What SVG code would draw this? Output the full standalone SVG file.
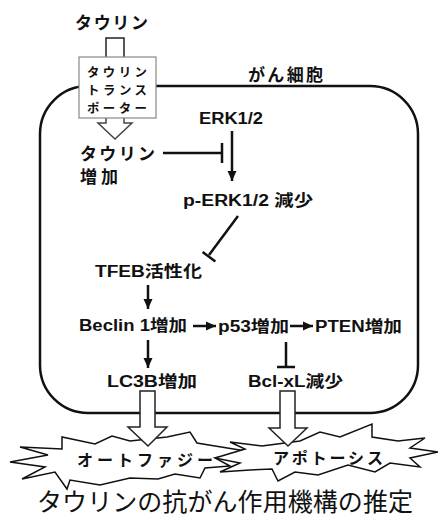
<svg xmlns="http://www.w3.org/2000/svg" width="438" height="517" viewBox="0 0 438 517">
<defs>
<style>
.t{font-family:"Liberation Sans","Noto Sans CJK JP",sans-serif;font-weight:bold;fill:#111;}
.j{font-family:"Noto Sans CJK JP",sans-serif;font-weight:bold;fill:#111;}
.ln{stroke:#111;stroke-width:2.5;fill:none;}
.hollow{fill:#fff;stroke:#222;stroke-width:1.5;stroke-linejoin:miter;}
.burst{fill:#fff;stroke:#111;stroke-width:1.5;stroke-linejoin:miter;}
</style>
<marker id="ah" markerUnits="userSpaceOnUse" markerWidth="10" markerHeight="10" viewBox="0 0 10 10" refX="10" refY="5" orient="auto">
<path d="M0,0.5 L10,5 L0,9.5 Z" fill="#111"/>
</marker>
</defs>
<rect width="438" height="517" fill="#fff"/>

<g id="cell">
<rect x="40" y="86" width="378" height="327" rx="48" ry="48" fill="none" stroke="#111" stroke-width="2.5"/>
<text class="j" x="248" y="81" font-size="17" textLength="75" lengthAdjust="spacing">がん細胞</text>
</g>

<g id="taurine-in">
<text class="j" x="75" y="29" font-size="17" textLength="73" lengthAdjust="spacing">タウリン</text>
<polygon class="hollow" points="106,38 124,38 124,58 106,58"/>
</g>

<g id="transporter">
<polygon class="hollow" points="106,117 124,117 124,123 132,123 115,139 98,123 106,123" style="stroke:#444"/>
<rect x="79" y="57" width="77" height="61" fill="#fff" stroke="#888" stroke-width="1.2"/>
<text class="j" x="87" y="76.5" font-size="12.4" textLength="60" lengthAdjust="spacing">タウリン</text>
<text class="j" x="87" y="94.5" font-size="12.4" textLength="60" lengthAdjust="spacing">トランス</text>
<text class="j" x="87" y="112.5" font-size="12.4" textLength="60" lengthAdjust="spacing">ポーター</text>
</g>

<g id="taurine-up">
<text class="j" x="80" y="160" font-size="17" textLength="75" lengthAdjust="spacing">タウリン</text>
<text class="j" x="80" y="183" font-size="17" textLength="38" lengthAdjust="spacing">増加</text>
</g>

<g id="erk">
<text class="t" x="199" y="124" font-size="16" textLength="64" lengthAdjust="spacingAndGlyphs">ERK1/2</text>
</g>

<g id="perk">
<text class="t" x="183" y="206" font-size="16" textLength="130" lengthAdjust="spacingAndGlyphs">p-ERK1/2 減少</text>
</g>

<g id="tfeb">
<text class="t" x="95" y="277" font-size="16" textLength="107" lengthAdjust="spacingAndGlyphs">TFEB活性化</text>
</g>

<g id="beclin">
<text class="t" x="79" y="331" font-size="16" textLength="108" lengthAdjust="spacingAndGlyphs">Beclin 1増加</text>
</g>

<g id="p53">
<text class="t" x="218" y="332" font-size="16" textLength="71" lengthAdjust="spacingAndGlyphs">p53増加</text>
</g>

<g id="pten">
<text class="t" x="315" y="332" font-size="16" textLength="87" lengthAdjust="spacingAndGlyphs">PTEN増加</text>
</g>

<g id="lc3b">
<text class="t" x="107" y="387" font-size="16" textLength="90" lengthAdjust="spacingAndGlyphs">LC3B増加</text>
</g>

<g id="bclxl">
<text class="t" x="248" y="387" font-size="16" textLength="95" lengthAdjust="spacingAndGlyphs">Bcl-xL減少</text>
</g>

<g id="autophagy">
<polygon class="burst" points="10,462 48,455 20,447 62,449 62,437 95,444 112,436 130,441 167,437 190,432 197,443 215,446 252,452 215,458 230,466 205,468 200,478 175,474 158,479 130,478 100,485 70,480 67,489 55,472 22,479 45,467"/>
</g>

<g id="apoptosis">
<polygon class="burst" points="215,458 245,449 230,442 262,446 300,441 320,432 340,437 372,424 372,437 398,441 425,438 410,448 438,452 410,458 420,467 390,463 375,472 348,465 318,475 295,472 278,481 272,469 250,470 220,472 240,463"/>
</g>

<g id="connectors">
<line class="ln" x1="232" y1="131" x2="232" y2="181" marker-end="url(#ah)"/>
<line class="ln" x1="163" y1="153" x2="222" y2="153"/>
<line class="ln" x1="222" y1="143" x2="222" y2="163"/>
<line class="ln" x1="238" y1="216" x2="209" y2="255"/>
<line class="ln" x1="202.6" y1="252" x2="215.4" y2="261.6"/>
<line class="ln" x1="148" y1="285" x2="148" y2="309" marker-end="url(#ah)"/>
<line class="ln" x1="148" y1="340" x2="148" y2="368" marker-end="url(#ah)"/>
<line class="ln" x1="193" y1="326" x2="216" y2="326" marker-end="url(#ah)"/>
<line class="ln" x1="290" y1="326" x2="313" y2="326" marker-end="url(#ah)"/>
<line class="ln" x1="286" y1="342" x2="286" y2="367"/>
<line class="ln" x1="277" y1="367" x2="295" y2="367"/>
<polygon class="hollow" points="140,391 155,391 155,427 167,427 148,446 128,427 140,427"/>
<polygon class="hollow" points="280,391 295,391 295,428 307,428 288,446 269,428 280,428"/>
</g>

<g id="labels-burst">
<text class="j" x="77" y="466" font-size="16" textLength="136" lengthAdjust="spacing">オートファジー</text>
<text class="j" x="273" y="464" font-size="16" textLength="110" lengthAdjust="spacing">アポトーシス</text>
</g>

<g id="title">
<text x="37" y="511" font-family="'Noto Sans CJK JP','Noto Sans',sans-serif" font-size="25" fill="#111" textLength="376" lengthAdjust="spacing">タウリンの抗がん作用機構の推定</text>
</g>
</svg>
